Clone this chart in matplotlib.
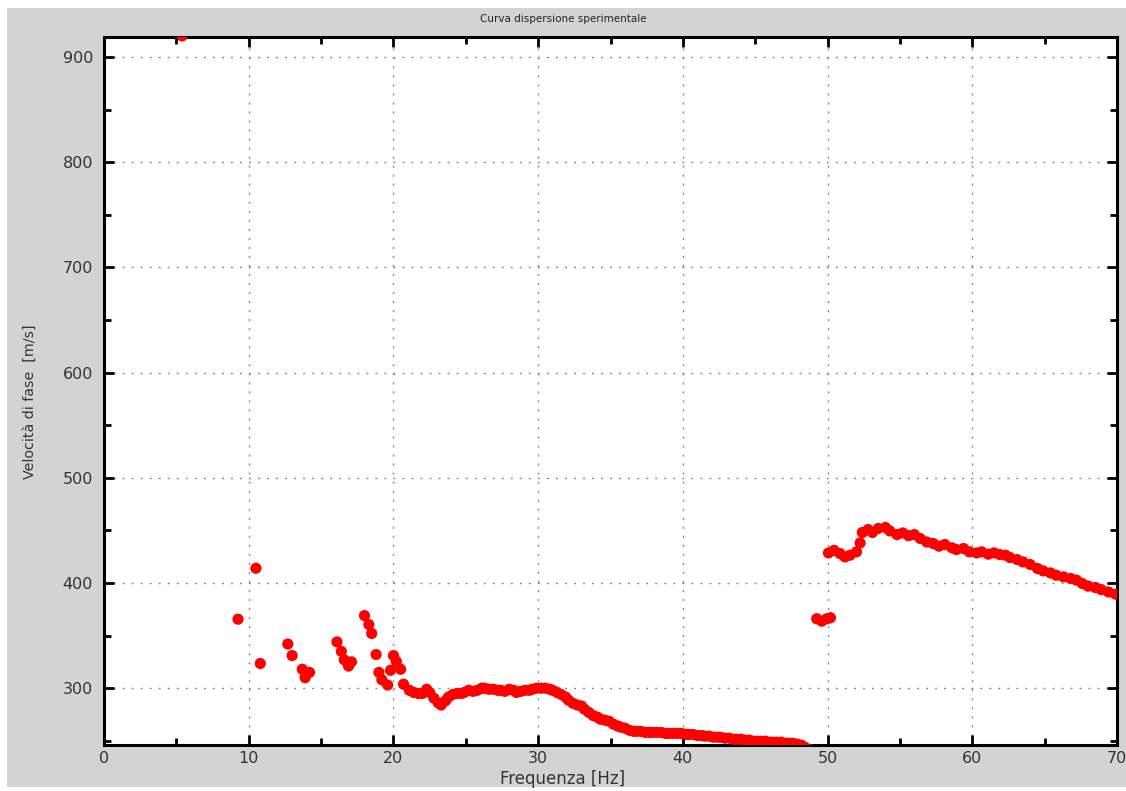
import matplotlib
matplotlib.use("Agg")
import matplotlib.pyplot as plt
from matplotlib.patches import Rectangle
from matplotlib.ticker import MultipleLocator

# punti sparsi a bassa frequenza
freq_sparse = [5.4, 9.26, 10.5, 10.8, 12.7, 13.0, 13.7, 13.9, 14.2, 16.1, 16.4, 16.6,
               16.9, 17.1, 18.0, 18.3, 18.5, 18.8, 19.0, 19.2, 19.6, 19.8, 20.0, 20.2, 20.5]
vel_sparse = [920, 365.6, 414, 323.5, 342, 331, 318, 310, 315, 344, 335, 327,
              321, 325, 369, 360.5, 352, 332, 315, 308, 303, 317, 331, 325.5, 318]

# ramo principale 20-49 Hz
freq_modo1 = [20.7, 21.1, 21.4, 21.7, 22.0, 22.3, 22.5, 22.8, 23.1, 23.3, 23.6, 23.8,
              24.1, 24.4, 24.7, 24.9, 25.2, 25.5, 25.8, 26.1, 26.3, 26.6, 26.9, 27.2,
              27.4, 27.7, 28.0, 28.3, 28.5, 28.8, 29.1, 29.4, 29.6, 29.9, 30.2, 30.5,
              30.8, 31.0, 31.3, 31.6, 31.9, 32.1, 32.4, 32.7, 33.0, 33.2, 33.5, 33.8,
              34.1, 34.3, 34.6, 34.9, 35.2, 35.5, 35.7, 36.0, 36.3, 36.6, 36.8, 37.1,
              37.4, 37.7, 37.9, 38.2, 38.5, 38.8, 39.0, 39.3, 39.6, 39.9, 40.2, 40.4,
              40.7, 41.0, 41.3, 41.5, 41.8, 42.1, 42.4, 42.6, 42.9, 43.2, 43.5, 43.7,
              44.0, 44.3, 44.6, 44.9, 45.1, 45.4, 45.7, 46.0, 46.2, 46.5, 46.8, 47.1,
              47.3, 47.6, 47.9, 48.2, 48.4, 48.7, 49.0, 49.3]
vel_modo1 = [303.8, 298, 296, 295, 295, 299, 296, 290.5, 286, 284, 288, 291.5,
             294, 295, 295, 296, 298, 297, 298, 300, 300, 299, 299, 298,
             298, 297, 299, 298, 296, 297, 298, 298, 299, 300, 300, 300,
             299, 298, 296, 294, 291.5, 288.6, 285.7, 284, 283, 280, 277, 274,
             272.4, 270.5, 269.6, 268.6, 265.8, 264, 263, 262, 260, 259, 259, 259,
             258, 258, 258, 258, 258, 257, 257, 257, 257, 257, 256, 256,
             256, 255, 255, 254.4, 254.4, 253.4, 253.4, 253.4, 252.5, 252.5, 251.5, 251.5,
             251.5, 250.6, 250.6, 249.6, 249.6, 249.6, 249.6, 248.7, 248.7, 248.7, 248.7, 247.7,
             247.7, 247.7, 246.8, 245.8, 244, 242, 240, 238]

# ramo ad alta frequenza 49-70 Hz
freq_modo2 = [49.25, 49.6, 49.95, 50.2, 50.06, 50.45, 50.86, 51.2, 51.55, 52.0, 52.25,
              52.4, 52.8, 53.1, 53.5, 54.0, 54.3, 54.8, 55.2, 55.6, 56.0, 56.4, 56.85,
              57.3, 57.7, 58.1, 58.6, 58.9, 59.4, 59.8, 60.3, 60.65, 61.1, 61.5, 61.9,
              62.3, 62.6, 63.1, 63.5, 64.0, 64.5, 64.9, 65.4, 65.8, 66.3, 66.8, 67.2,
              67.6, 68.0, 68.5, 68.9, 69.4, 69.9]
vel_modo2 = [366, 363.7, 366, 367, 428.6, 431, 428, 424.8, 426.4, 429.6, 438,
             448, 450.8, 448, 451.8, 452.8, 449.5, 446, 447.6, 445, 446, 442.3, 439,
             437.5, 435, 436.6, 433.4, 431.8, 432.8, 429.6, 428.6, 429.6, 427.4, 428.6, 427,
             426.4, 424.2, 422.3, 420, 417.6, 413.8, 411.5, 409.6, 407.4, 405.8, 404.3, 402.7,
             399.5, 397, 395.7, 393.8, 391.5, 389.4]

grigio = "#d3d3d3"

fig = plt.figure(figsize=(11.26, 7.91), dpi=100, facecolor="white")
fig.patches.append(Rectangle((0.006, 0.005), 0.994, 0.985, transform=fig.transFigure,
                             facecolor=grigio, edgecolor="none", zorder=-10))

ax = fig.add_axes([104 / 1126, 1 - 745 / 791, (1117 - 104) / 1126, (745 - 37) / 791])
ax.set_facecolor("white")

for f, v in [(freq_sparse, vel_sparse), (freq_modo1, vel_modo1), (freq_modo2, vel_modo2)]:
    ax.scatter(f, v, s=65, color="#ff0000", edgecolors="none", zorder=3)

ax.set_xlim(0, 70)
ax.set_ylim(246, 919)
ax.xaxis.set_major_locator(MultipleLocator(10))
ax.xaxis.set_minor_locator(MultipleLocator(5))
ax.yaxis.set_major_locator(MultipleLocator(100))
ax.yaxis.set_minor_locator(MultipleLocator(50))
ax.tick_params(which="both", direction="in", top=True, right=True, width=2,
               colors="black", labelcolor="#333333", labelsize=11.5)
ax.tick_params(which="major", length=7)
ax.tick_params(which="minor", length=5)
ax.tick_params(axis="x", pad=4)
ax.tick_params(axis="y", pad=8)
for sp in ax.spines.values():
    sp.set_linewidth(2.2)

ax.grid(True, which="major", color="#8c8c8c", linestyle=(0, (1.5, 5)), linewidth=1.0)

fig.text(0.5, 1 - 19 / 791, "Curva dispersione sperimentale", ha="center", va="center",
         fontsize=7.5, color="#222222")
fig.text(0.5, 1 - 779 / 791, "Frequenza [Hz]", ha="center", va="center",
         fontsize=12, color="#333333")
fig.text(30 / 1126, 1 - 402 / 791, "Velocità di fase  [m/s]", ha="center", va="center",
         rotation=90, fontsize=10.3, color="#333333")

plt.savefig("out.png", dpi=100, facecolor=fig.get_facecolor())
